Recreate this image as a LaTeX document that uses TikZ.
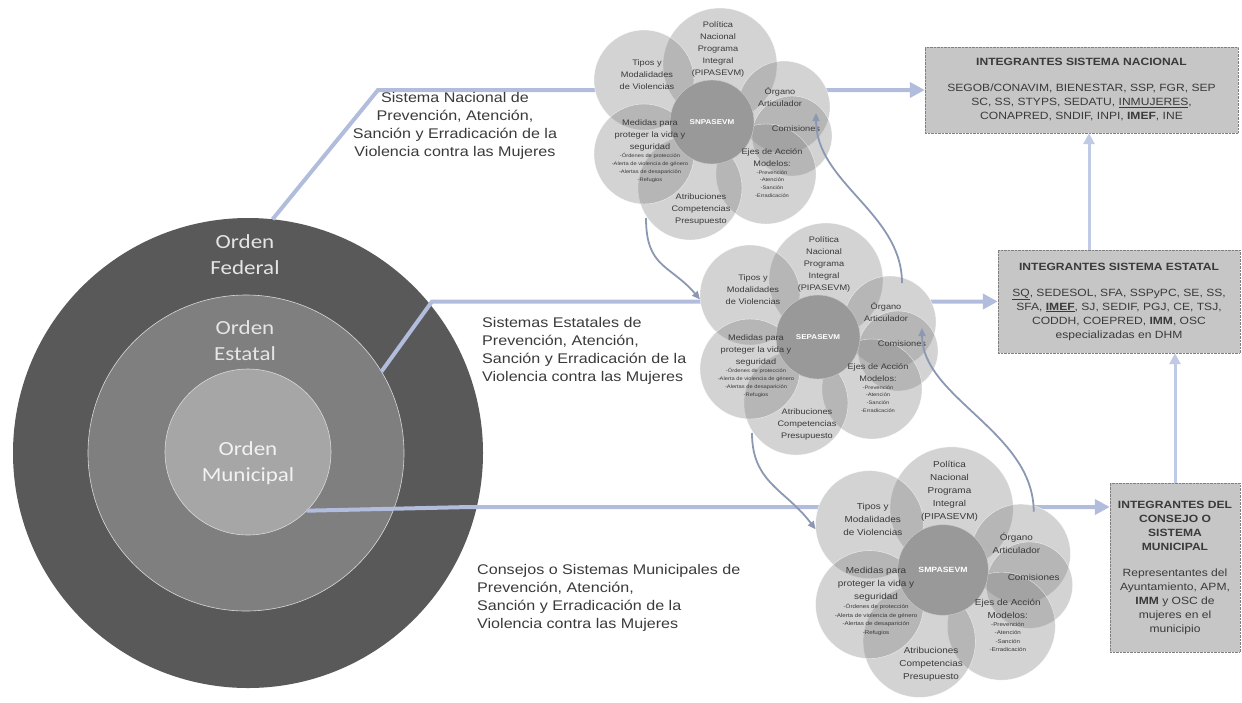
\documentclass[tikz,border=0pt]{standalone}
\usepackage{fontspec}
\setmainfont{Liberation Sans}[FakeStretch=1.15]
\newfontfamily\orden{Carlito}[FakeStretch=1.15]
\usetikzlibrary{arrows.meta}
\definecolor{fedgris}{HTML}{595959}
\definecolor{estgris}{HTML}{7F7F7F}
\definecolor{mungris}{HTML}{A6A6A6}
\definecolor{lila}{RGB}{178,189,221}
\definecolor{curva}{RGB}{140,152,178}
\definecolor{cajagris}{HTML}{C6C6C6}
\definecolor{texto}{HTML}{3A3A3A}
\newcommand{\petalos}{8/-57/57/pol,-68/-42/50/tip,72/-15/46/org,80/14/40/com,54/52/50/eje,-22/66/52/atr,-68/32/50/med}
\newcommand{\flor}[4]{%
\begin{scope}[shift={#2},scale=#3,transform shape]
\foreach \px/\py/\pr/\pn in \petalos {\fill[white] (\px,\py) circle (\pr);}
\foreach \px/\py/\pr/\pn in \petalos {\node[petalo,minimum size=2*\pr] (#1-\pn) at (\px,\py) {};}
\node[centro] (#1) at (0,0) {#4};
\node[ptxt] at (6,-73) {Política\\Nacional\\Programa\\Integral\\(PIPASEVM)};
\node[ptxt] at (-65,-47) {Tipos y\\Modalidades\\de Violencias};
\node[ptxt] at (68,-25) {Órgano\\Articulador};
\node[ptxt] at (84,7) {Comisiones};
\node[ptxt] at (60,36) {Ejes de Acción\\Modelos:};
\node[ptmini] at (60,62) {-Prevención\\-Atención\\-Sanción\\-Erradicación};
\node[ptxt] at (-62,13) {Medidas para\\proteger la vida y\\seguridad};
\node[ptmini] at (-62,46) {-Órdenes de protección\\-Alerta de violencia de género\\-Alertas de desaparición\\-Refugios};
\node[ptxt] at (-11,87) {Atribuciones\\Competencias\\Presupuesto};
\coordinate (#1-baja) at (-66,96);
\coordinate (#1-sal) at (84,-54);
\coordinate (#1-ent) at (104,-9);
\end{scope}}

\begin{document}
\begin{tikzpicture}[x=1pt,y=-1pt,
  orden/.style={circle,outer sep=0pt,inner sep=0pt,draw=white!85!black,line width=.6pt},
  rotulo/.style={text=white!90!black,align=center,font=\orden\fontsize{20}{26}\selectfont},
  conector/.style={draw=lila,line width=4pt,-{Triangle[length=15pt,width=15pt]}},
  subida/.style={draw=lila!80!white,line width=3pt,-{Triangle[length=11pt,width=11pt]}},
  curvo/.style={draw=curva,line width=1.8pt,-{Triangle[length=8pt,width=7pt]}},
  etiq/.style={text=texto,inner sep=0pt,font=\fontsize{14}{18}\selectfont},
  caja/.style={fill=cajagris,draw=gray,densely dotted,text=texto,align=center,inner sep=0pt,font=\fontsize{10.5}{14}\selectfont},
  petalo/.style={circle,inner sep=0pt,fill=gray,fill opacity=.34,draw=white,draw opacity=.7,line width=.4pt},
  centro/.style={circle,inner sep=0pt,minimum size=84,fill=white!60!black,draw=white!80!black,line width=.4pt,text=white,font=\bfseries\fontsize{7}{8}\selectfont},
  ptxt/.style={text=texto,align=center,inner sep=0pt,font=\fontsize{8}{12}\selectfont},
  ptmini/.style={text=texto,align=center,inner sep=0pt,font=\fontsize{5}{7.8}\selectfont}]
\useasboundingbox (0,0) rectangle (1242,702);
\node[orden,fill=fedgris,minimum size=470,draw=none] (ofed) at (248,453) {};
\node[orden,fill=estgris,minimum size=316] (oest) at (246,453) {};
\node[orden,fill=mungris,minimum size=166] (omun) at (248,452) {};
\node[rotulo] (tfed) at (245,255) {Orden\\Federal};
\node[rotulo] (test) at (245,341) {Orden\\Estatal};
\node[rotulo,text=white!95!black] (tmun) at (248,463) {Orden\\Municipal};
\node[caja,minimum width=313,minimum height=86] (inac) at (1081.5,90) {\textbf{INTEGRANTES SISTEMA NACIONAL}\\[12pt]SEGOB/CONAVIM, BIENESTAR, SSP, FGR, SEP\\SC, SS, STYPS, SEDATU, \underline{INMUJERES},\\CONAPRED, SNDIF, INPI, \textbf{IMEF}, INE};
\node[caja,minimum width=242,minimum height=103] (iest) at (1119,301.5) {\textbf{INTEGRANTES SISTEMA ESTATAL}\\[12pt]\underline{SQ}, SEDESOL, SFA, SSPyPC, SE, SS,\\SFA, \underline{\textbf{IMEF}}, SJ, SEDIF, PGJ, CE, TSJ,\\CODDH, COEPRED, \textbf{IMM}, OSC\\especializadas en DHM};
\node[caja,minimum width=130,minimum height=169] (imun) at (1175,567.5) {\textbf{INTEGRANTES DEL}\\\textbf{CONSEJO O}\\\textbf{SISTEMA}\\\textbf{MUNICIPAL}\\[12pt]Representantes del\\Ayuntamiento, APM,\\\textbf{IMM} y OSC de\\mujeres en el\\municipio};
\coordinate (q1) at (378,90);
\coordinate (q2) at (432,301.5);
\coordinate (q3) at (470,507);
\draw[conector] (ofed.84) -- (q1) -- (q1 -| inac.west);
\draw[conector] (oest.31) -- (q2) -- (q2 -| iest.west);
\draw[conector] (omun.-45) -- (q3) -- (imun.west |- q3);
\draw[subida] ([xshift=-30pt]iest.north) -- ([xshift=-30pt]iest.north |- inac.south);
\draw[subida] (imun.north) -- (imun.north |- iest.south);
\node[etiq,align=center] (lnac) at (455,126) {Sistema Nacional de\\Prevención, Atención,\\Sanción y Erradicación de la\\Violencia contra las Mujeres};
\node[etiq,align=left,anchor=west] (lest) at (482,351) {Sistemas Estatales de\\Prevención, Atención,\\Sanción y Erradicación de la\\Violencia contra las Mujeres};
\node[etiq,align=left,anchor=west] (lmun) at (477,598) {Consejos o Sistemas Municipales de\\Prevención, Atención,\\Sanción y Erradicación de la\\Violencia contra las Mujeres};
\flor{n1}{(712,122)}{1}{SNPASEVM}
\flor{n2}{(818,337)}{1}{SEPASEVM}
\flor{n3}{(943,570)}{1.08}{SMPASEVM}
\draw[curvo] (n1-baja) .. controls +(0,50) and +(-30,-35) .. (n2-tip.185);
\draw[curvo] (n2-baja) .. controls +(0,50) and +(-30,-40) .. (n3-tip.185);
\draw[curvo] (n2-sal) .. controls +(0,-70) and +(0,70) .. (n1-ent);
\draw[curvo] (n3-sal) .. controls +(0,-80) and +(0,70) .. (n2-ent);
\end{tikzpicture}
\end{document}
